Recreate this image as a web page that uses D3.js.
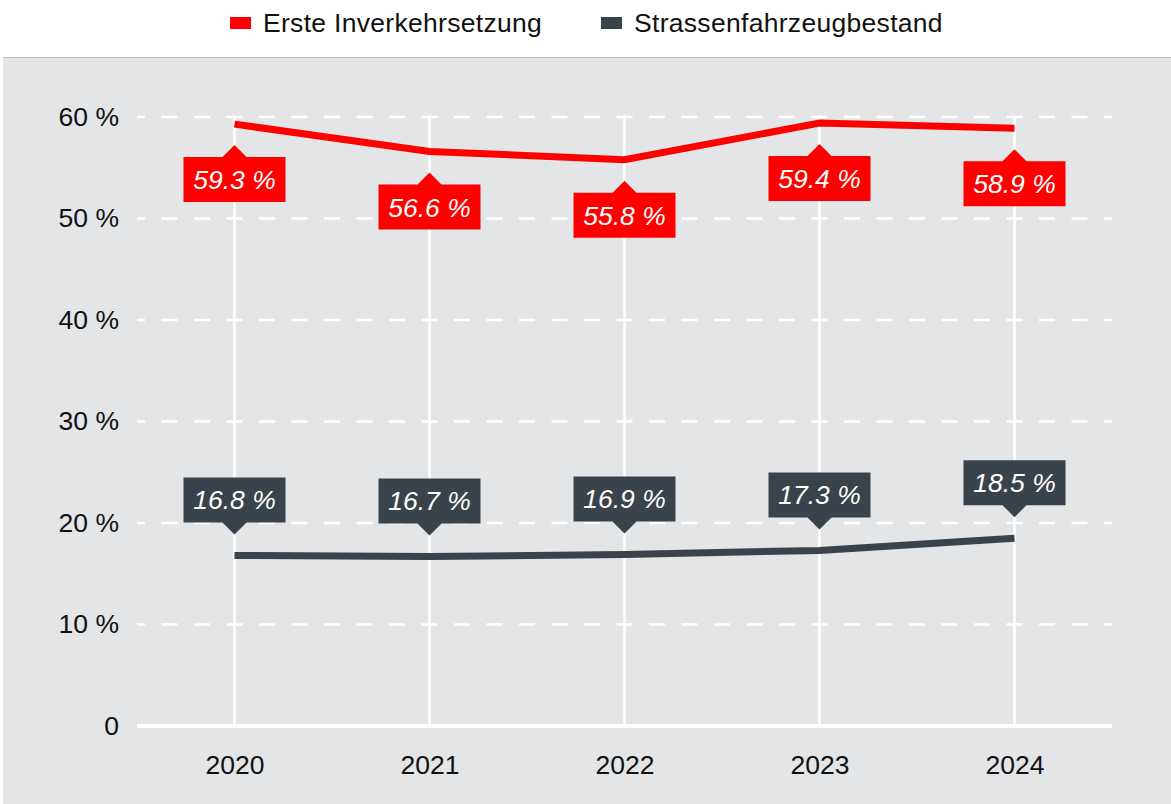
<!DOCTYPE html>
<html>
<head>
<meta charset="utf-8">
<script src="https://cdn.jsdelivr.net/npm/d3@7"></script>
<style>
  body { margin: 0; background: #fff; }
  svg { display: block; font-family: "Liberation Sans", Arial, sans-serif; }
</style>
</head>
<body>
<div id="chart"></div>
<script>
// data
const years = ["2020", "2021", "2022", "2023", "2024"];
const ersteInverkehr = [59.3, 56.6, 55.8, 59.4, 58.9];
const bestand = [16.8, 16.7, 16.9, 17.3, 18.5];
const yTicks = [0, 10, 20, 30, 40, 50, 60];
const seriesNames = ["Erste Inverkehrsetzung", "Strassenfahrzeugbestand"];

const width = 1171;
const height = 804;
const red = "#ff0000";
const dark = "#3a434b";

const svg = d3.select("#chart")
    .append("svg")
    .attr("width", width)
    .attr("height", height);

// panel background
svg.append("rect")
    .attr("x", 3).attr("y", 57)
    .attr("width", width - 3).attr("height", height - 57)
    .attr("fill", "#e4e5e7");
svg.append("line")
    .attr("x1", 3).attr("x2", width)
    .attr("y1", 57.5).attr("y2", 57.5)
    .attr("stroke", "#bcbcbc").attr("stroke-width", 1);

const x = d3.scalePoint()
    .domain(years)
    .range([137, 1112])
    .padding(0.5);

const y = d3.scaleLinear()
    .domain([0, 60])
    .range([726, 117]);

// horizontal dashed grid
svg.append("g")
    .selectAll("line")
    .data(yTicks.filter(d => d > 0))
    .join("line")
    .attr("x1", 137).attr("x2", 1112)
    .attr("y1", d => y(d)).attr("y2", d => y(d))
    .attr("stroke", "#fff")
    .attr("stroke-width", 2.5)
    .attr("stroke-dasharray", "16,16.5")
    .attr("stroke-dashoffset", 8);

// vertical grid
svg.append("g")
    .selectAll("line")
    .data(years)
    .join("line")
    .attr("x1", d => x(d)).attr("x2", d => x(d))
    .attr("y1", y(60) - 2).attr("y2", y(0))
    .attr("stroke", "#fff")
    .attr("stroke-width", 2.5);

// baseline
svg.append("line")
    .attr("x1", 137).attr("x2", 1112)
    .attr("y1", y(0)).attr("y2", y(0))
    .attr("stroke", "#fff")
    .attr("stroke-width", 4);

// y axis labels
const yAxis = d3.axisLeft(y)
    .tickValues(yTicks)
    .tickSize(0)
    .tickPadding(0)
    .tickFormat(d => d === 0 ? "0" : d + " %");
svg.append("g")
    .attr("transform", "translate(119,0)")
    .call(yAxis)
    .call(g => g.select(".domain").remove())
    .call(g => g.selectAll("text")
        .attr("font-size", 26.5)
        .attr("font-family", "Liberation Sans, Arial, sans-serif")
        .attr("fill", "#111"));

// x axis labels
const xAxis = d3.axisBottom(x).tickSize(0).tickPadding(0);
svg.append("g")
    .attr("transform", "translate(0,755)")
    .call(xAxis)
    .call(g => g.select(".domain").remove())
    .call(g => g.selectAll("text")
        .attr("font-size", 26.5)
        .attr("font-family", "Liberation Sans, Arial, sans-serif")
        .attr("fill", "#111"));

const line = d3.line()
    .x((d, i) => x(years[i]))
    .y(d => y(d));

svg.append("path")
    .datum(ersteInverkehr)
    .attr("d", line)
    .attr("fill", "none")
    .attr("stroke", red)
    .attr("stroke-width", 7);

svg.append("path")
    .datum(bestand)
    .attr("d", line)
    .attr("fill", "none")
    .attr("stroke", dark)
    .attr("stroke-width", 7);

// data labels
const boxW = 102, boxH = 45, tipGap = 21, tipH = 12, tipW = 12;

function drawLabels(values, color, below) {
    const g = svg.append("g");
    const lbl = g.selectAll("g")
        .data(values)
        .join("g")
        .attr("transform", (d, i) => `translate(${x(years[i])},${y(d)})`);
    lbl.append("path")
        .attr("fill", color)
        .attr("d", () => {
            if (below) {
                const t = tipGap, b = tipGap + tipH;
                return `M0,${t}L${tipW},${b}L${boxW / 2},${b}L${boxW / 2},${b + boxH}` +
                    `L${-boxW / 2},${b + boxH}L${-boxW / 2},${b}L${-tipW},${b}Z`;
            } else {
                const t = -tipGap, b = -tipGap - tipH;
                return `M0,${t}L${tipW},${b}L${boxW / 2},${b}L${boxW / 2},${b - boxH}` +
                    `L${-boxW / 2},${b - boxH}L${-boxW / 2},${b}L${-tipW},${b}Z`;
            }
        });
    lbl.append("text")
        .attr("text-anchor", "middle")
        .attr("y", below ? tipGap + tipH + boxH / 2 + 9.5 : -tipGap - tipH - boxH / 2 + 9.5)
        .attr("fill", "#fff")
        .attr("font-size", 26.5)
        .attr("font-style", "italic")
        .text(d => d.toFixed(1) + " %");
}
drawLabels(ersteInverkehr, red, true);
drawLabels(bestand, dark, false);

// legend
const legend = svg.append("g");
const legendX = [230, 601];
const legendColors = [red, dark];
legend.selectAll("rect")
    .data(seriesNames)
    .join("rect")
    .attr("x", (d, i) => legendX[i])
    .attr("y", 17)
    .attr("width", 21)
    .attr("height", 12)
    .attr("fill", (d, i) => legendColors[i]);
legend.selectAll("text")
    .data(seriesNames)
    .join("text")
    .attr("x", (d, i) => legendX[i] + 33)
    .attr("y", 32)
    .attr("font-size", 26.5)
    .attr("letter-spacing", 0.3)
    .attr("fill", "#111")
    .text(d => d);
</script>
</body>
</html>
